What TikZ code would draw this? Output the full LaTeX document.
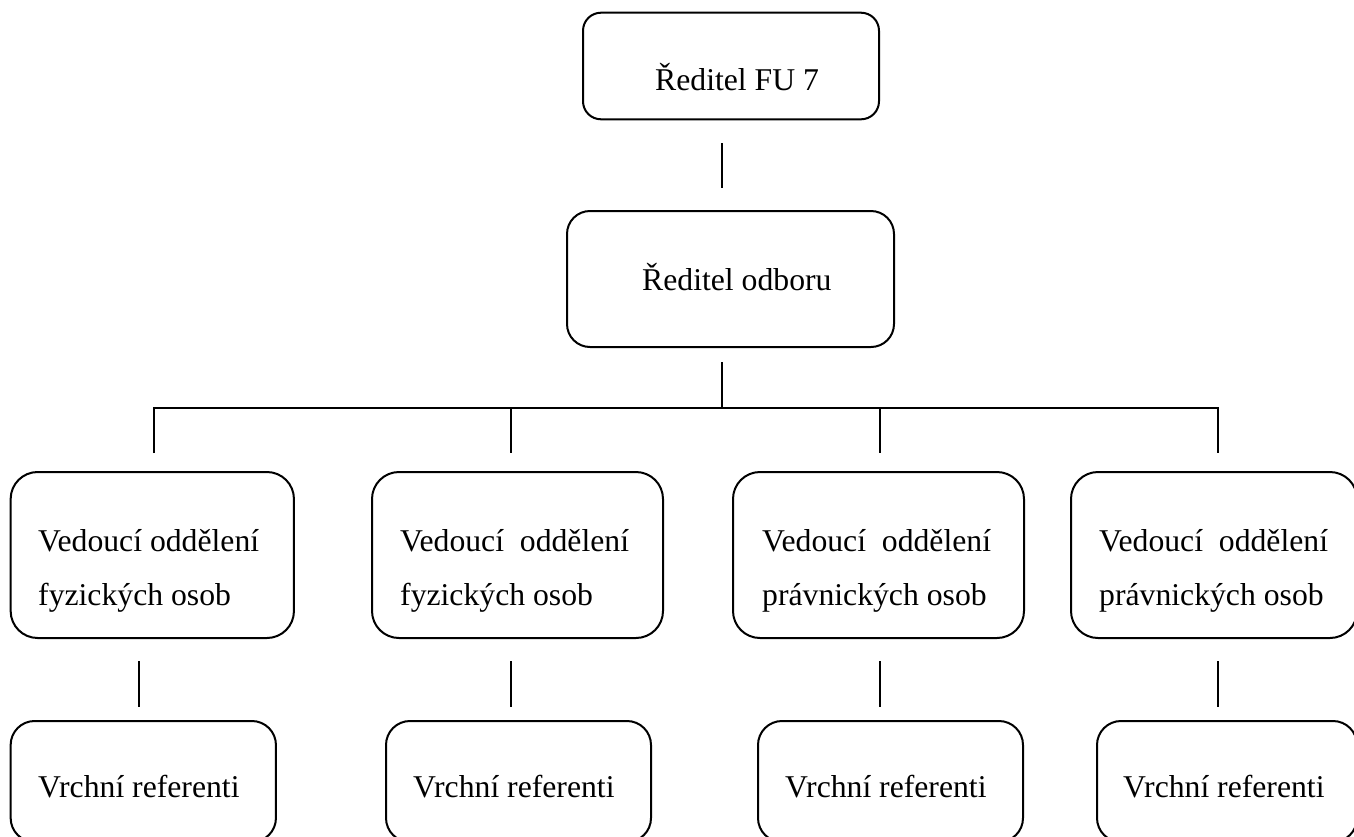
\documentclass[tikz,border=0pt]{standalone}
\usepackage{fontspec}
\setmainfont{Liberation Serif}
\begin{document}
\begin{tikzpicture}[x=1pt,y=-1pt,
  boxA/.style={draw, line width=2pt, rounded corners=18pt, inner sep=0pt},
  boxB/.style={draw, line width=2pt, rounded corners=23pt, inner sep=0pt},
  boxC/.style={draw, line width=2pt, rounded corners=27pt, inner sep=0pt},
  boxD/.style={draw, line width=2pt, rounded corners=24pt, inner sep=0pt},
  txt/.style={font=\fontsize{31.7}{53.3}\selectfont, align=left, inner sep=0pt, anchor=base west},
  conn/.style={line width=1.8pt}]
\useasboundingbox (0,0) rectangle (1354,836);
\clip (0,0) rectangle (1354,836);
% boxes
\node[boxA, minimum width=296pt, minimum height=106.6pt] (A) at (731,66) {};
\node[boxB, minimum width=327pt, minimum height=136pt] (B) at (730.5,279) {};
\node[boxC, minimum width=283.3pt, minimum height=166pt] (C1) at (152.3,555) {};
\node[boxC, minimum width=291pt, minimum height=166pt] (C2) at (517.5,555) {};
\node[boxC, minimum width=291pt, minimum height=166pt] (C3) at (878.5,555) {};
\node[boxC, minimum width=286pt, minimum height=166pt] (C4) at (1214,555) {};
\node[boxD, minimum width=265.3pt, minimum height=121pt] (D1) at (143.3,781.5) {};
\node[boxD, minimum width=265pt, minimum height=121pt] (D2) at (518.5,781.5) {};
\node[boxD, minimum width=265pt, minimum height=121pt] (D3) at (890.5,781.5) {};
\node[boxD, minimum width=260pt, minimum height=121pt] (D4) at (1227,781.5) {};
% texts (base anchor = baseline of the last line)
\node[txt] (tA) at (655,90) {Ředitel FU 7};
\node[txt] (tB) at (642,290) {Ředitel odboru};
\node[txt] (tC1) at (38,605) {Vedoucí oddělení\\fyzických osob};
\node[txt] (tC2) at (400,605) {Vedoucí\ \ oddělení\\fyzických osob};
\node[txt] (tC3) at (762,605) {Vedoucí\ \ oddělení\\právnických osob};
\node[txt] (tC4) at (1099,605) {Vedoucí\ \ oddělení\\právnických osob};
\node[txt] (tD1) at (38,797) {Vrchní referenti};
\node[txt] (tD2) at (413,797) {Vrchní referenti};
\node[txt] (tD3) at (785,797) {Vrchní referenti};
\node[txt] (tD4) at (1123,797) {Vrchní referenti};
% connector end points
\coordinate (ab1) at (722,143);
\coordinate (ab2) at (722,188);
\coordinate (bh) at (722,362);
\coordinate (hub) at (722,408);
\coordinate (c1t) at (154,453);
\coordinate (c2t) at (511,453);
\coordinate (c3t) at (880,453);
\coordinate (c4t) at (1218,453);
\coordinate (cd1a) at (139,661);
\coordinate (cd1b) at (139,707);
\coordinate (cd2a) at (511,661);
\coordinate (cd2b) at (511,707);
\coordinate (cd3a) at (880,661);
\coordinate (cd3b) at (880,707);
\coordinate (cd4a) at (1218,661);
\coordinate (cd4b) at (1218,707);
% connectors
\draw[conn] (ab1) -- (ab2);
\draw[conn] (bh) -- (hub);
\draw[conn] (c1t) -- (c1t |- hub) -- (c4t |- hub) -- (c4t);
\draw[conn] (c2t |- hub) -- (c2t);
\draw[conn] (c3t |- hub) -- (c3t);
\draw[conn] (cd1a) -- (cd1b);
\draw[conn] (cd2a) -- (cd2b);
\draw[conn] (cd3a) -- (cd3b);
\draw[conn] (cd4a) -- (cd4b);
\end{tikzpicture}
\end{document}
